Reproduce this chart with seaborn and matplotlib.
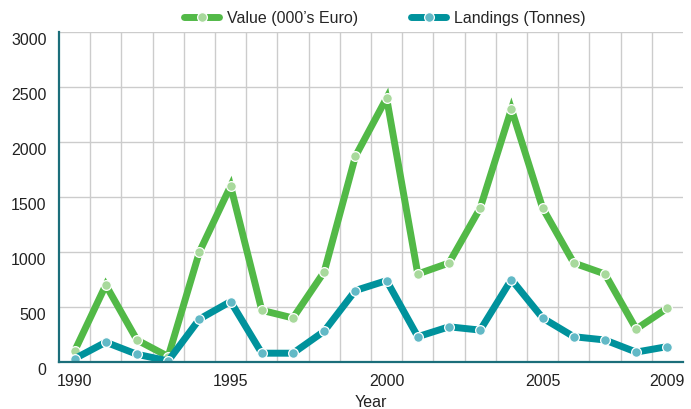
import numpy as np
import pandas as pd
import matplotlib
matplotlib.use("Agg")
import matplotlib.pyplot as plt
import matplotlib.transforms as mtransforms
import seaborn as sns

# Data
years = list(range(1990, 2010))
value_keur = [100, 700, 200, 50, 1000, 1600, 470, 400, 820, 1870,
              2400, 800, 900, 1400, 2300, 1400, 900, 800, 300, 490]
landings_t = [30, 180, 70, 10, 390, 550, 80, 80, 280, 650,
              740, 230, 320, 290, 750, 400, 230, 200, 90, 140]
tick_years = [1990, 1995, 2000, 2005, 2009]

GREEN = "#52b947"
GREEN_LIGHT = "#a8d99c"
TEAL = "#00929c"
TEAL_LIGHT = "#62b9c6"
SPINE = "#1b6e7a"
TEXT = "#222222"

df = pd.DataFrame({"Year": years, "Value": value_keur, "Landings": landings_t})

sns.set_style("white")
plt.rcParams["font.family"] = ["Liberation Sans", "DejaVu Sans"]

fig = plt.figure(figsize=(6.91, 4.10), dpi=100)
ax = fig.add_axes([59 / 691, 1 - 363 / 410, 624 / 691, 330 / 410])

line_kw = dict(linewidth=5, marker="o", markersize=7, markeredgecolor="white",
               markeredgewidth=0.9)
sns.lineplot(data=df, x="Year", y="Value", ax=ax, color=GREEN,
             markerfacecolor=GREEN_LIGHT, solid_joinstyle="miter",
             label="Value (000\u2019s Euro)", **line_kw)
sns.lineplot(data=df, x="Year", y="Landings", ax=ax, color=TEAL,
             markerfacecolor=TEAL_LIGHT, solid_joinstyle="round",
             label="Landings (Tonnes)", **line_kw)

ax.set_xlim(1989.5, 2009.5)
ax.set_ylim(0, 3000)
ax.set_xticks(tick_years)
ax.set_xticks(np.arange(1990.5, 2009.0, 1.0), minor=True)
ax.set_yticks(range(0, 3001, 500))
ax.grid(True, which="minor", axis="x", color="#cccccc", linewidth=1)
ax.grid(True, which="major", axis="y", color="#cccccc", linewidth=1)
ax.set_axisbelow(True)

for side in ["top", "right"]:
    ax.spines[side].set_visible(False)
for side in ["left", "bottom"]:
    ax.spines[side].set_color(SPINE)
    ax.spines[side].set_linewidth(1.6)

ax.tick_params(axis="both", which="both", length=0, labelsize=11.5, colors=TEXT)
ax.tick_params(axis="y", pad=9)
ax.tick_params(axis="x", pad=8)

# y labels sit a little below their grid lines
offset = mtransforms.ScaledTranslation(0, -6 / 100, fig.dpi_scale_trans)
for lbl in ax.get_yticklabels():
    lbl.set_transform(lbl.get_transform() + offset)

ax.set_xlabel("Year", fontsize=11.5, color=TEXT, labelpad=4)
ax.set_ylabel("")

ax.legend(loc="center", bbox_to_anchor=(385 / 691, 1 - 19 / 410),
          bbox_transform=fig.transFigure, ncol=2, frameon=False, fontsize=11.5,
          handlelength=2.2, handletextpad=0.5, columnspacing=3.3)

fig.savefig("out.png", dpi=100)
